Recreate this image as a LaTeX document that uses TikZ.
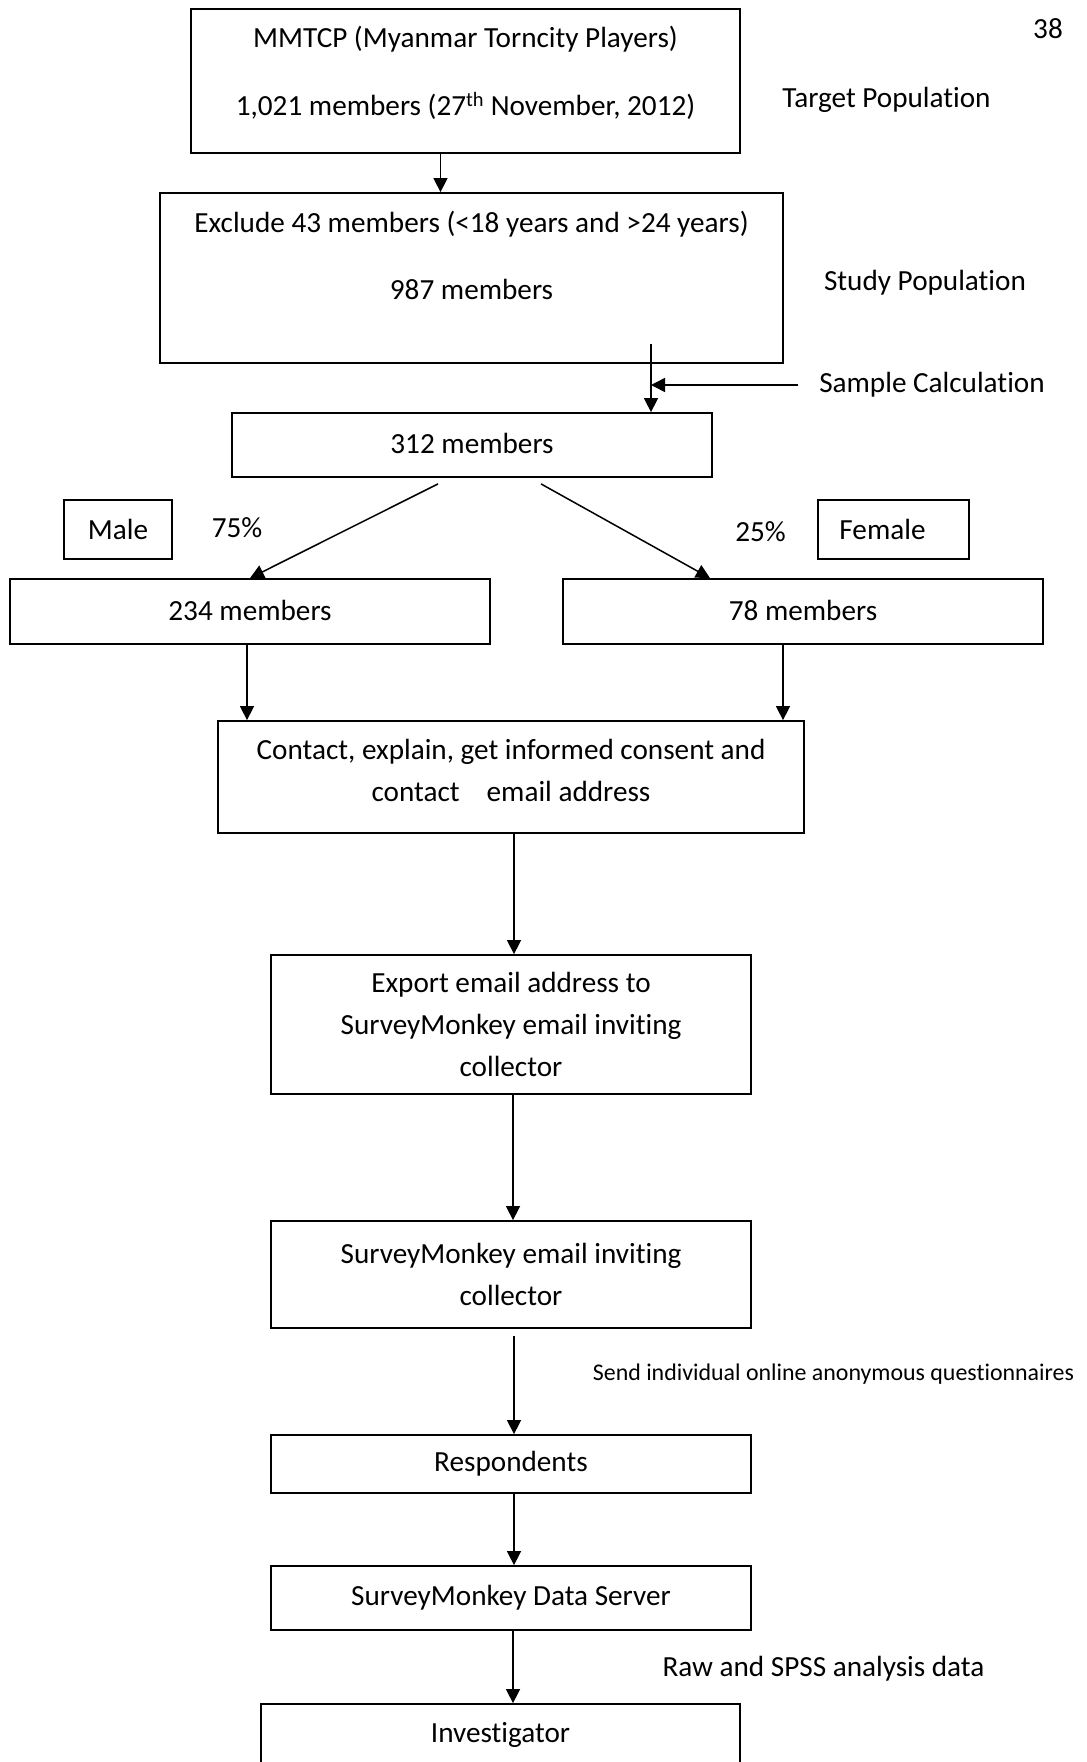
\documentclass[tikz,border=0pt]{standalone}
\usepackage{fontspec}
\setmainfont{Carlito}[Ligatures=NoCommon]
\usetikzlibrary{arrows.meta}

\tikzset{
	box/.style={draw, line width=1.8pt, inner sep=0pt, align=center, font=\fontsize{29.2}{42}\selectfont},
	txt/.style={inner sep=0pt, font=\fontsize{29.2}{42}\selectfont},
	smalltxt/.style={inner sep=0pt, font=\fontsize{23.9}{30}\selectfont},
	arr/.style={line width=1.5pt, -{Triangle[length=14pt,width=14pt]}}
}

\begin{document}
\begin{tikzpicture}[x=1pt, y=-1pt]
		%%%%% START %%%%%
		\useasboundingbox (0,0) rectangle (1087,1762);
		\clip (0,0) rectangle (1087,1762);
		
		\node[txt] (pagenum) at (1048, 29) {38};
		
		\node[box, minimum width=549, minimum height=144, text depth=20pt] (mmtcp) at (465.5, 81) {MMTCP (Myanmar Torncity Players)\\[26pt]1,021 members (27\textsuperscript{th} November, 2012)};
		\node[txt] (targetlbl) at (886.5, 100) {Target Population};
		
		\node[box, minimum width=623, minimum height=170, text depth=45pt] (study) at (471.5, 278) {Exclude 43 members (<18 years and >24 years)\\[25pt]987 members};
		\node[txt] (studylbl) at (925, 283) {Study Population};
		
		\node[box, minimum width=480, minimum height=64, text depth=3pt] (sample) at (472, 445) {312 members};
		\node[txt] (calclbl) at (932, 385) {Sample Calculation};
		\coordinate (split) at (651, 344);
		
		\node[box, minimum width=108, minimum height=59] (male) at (118, 529.5) {Male};
		\node[box, minimum width=151, minimum height=59] (female) at (893.5, 529.5) {\mbox{Female\hspace{22pt}}};
		\node[txt] (pct75) at (237, 528) {75\%};
		\node[txt] (pct25) at (760.5, 532) {25\%};
		
		\node[box, minimum width=480, minimum height=65, text depth=3pt] (malegrp) at (250, 611.5) {234 members};
		\node[box, minimum width=480, minimum height=65, text depth=3pt] (femalegrp) at (803, 611.5) {78 members};
		
		\node[box, minimum width=586, minimum height=112, text depth=14pt] (contact) at (511, 777) {Contact, explain, get informed consent and\\contact\hspace{27pt}email address};
		
		\node[box, minimum width=480, minimum height=139] (export) at (511, 1024.5) {Export email address to\\SurveyMonkey email inviting\\collector};
		
		\node[box, minimum width=480, minimum height=107] (collector) at (511, 1274.5) {SurveyMonkey email inviting\\collector};
		\node[smalltxt] (sendlbl) at (833.5, 1374) {Send individual online anonymous questionnaires};
		
		\node[box, minimum width=480, minimum height=58] (resp) at (511, 1464) {Respondents};
		\node[box, minimum width=480, minimum height=64] (server) at (511, 1598) {SurveyMonkey Data Server};
		\node[txt] (rawlbl) at (823.5, 1669) {Raw and SPSS analysis data};
		\node[box, minimum width=479, minimum height=62] (invest) at (500.5, 1735) {Investigator};
		
		\draw[arr] ([xshift=-25pt]mmtcp.south) -- ([xshift=-25pt]mmtcp.south |- study.north);
		\draw[arr] (split) -- (split |- sample.north);
		\draw[arr] ([xshift=-21pt]calclbl.west) -- (calclbl.west -| split);
		
		\draw[arr] ([xshift=-34pt, yshift=-6pt]sample.south) -- (malegrp.north);
		\draw[arr] ([xshift=69pt, yshift=-6pt]sample.south) -- ([xshift=-93pt]femalegrp.north);
		
		\draw[arr] ([xshift=-3pt]malegrp.south) -- ([xshift=-3pt]malegrp.south |- contact.north);
		\draw[arr] ([xshift=-20pt]femalegrp.south) -- ([xshift=-20pt]femalegrp.south |- contact.north);
		
		\draw[arr] ([xshift=3pt]contact.south) -- ([xshift=3pt]export.north);
		\draw[arr] ([xshift=2pt]export.south) -- ([xshift=2pt]collector.north);
		\draw[arr] ([xshift=3pt, yshift=-7pt]collector.south) -- ([xshift=3pt]resp.north);
		\draw[arr] ([xshift=3pt]resp.south) -- ([xshift=3pt]server.north);
		\draw[arr] ([xshift=2pt]server.south) -- ([xshift=2pt]server.south |- invest.north);
		
		%%%%% END %%%%%
\end{tikzpicture}
\end{document}
